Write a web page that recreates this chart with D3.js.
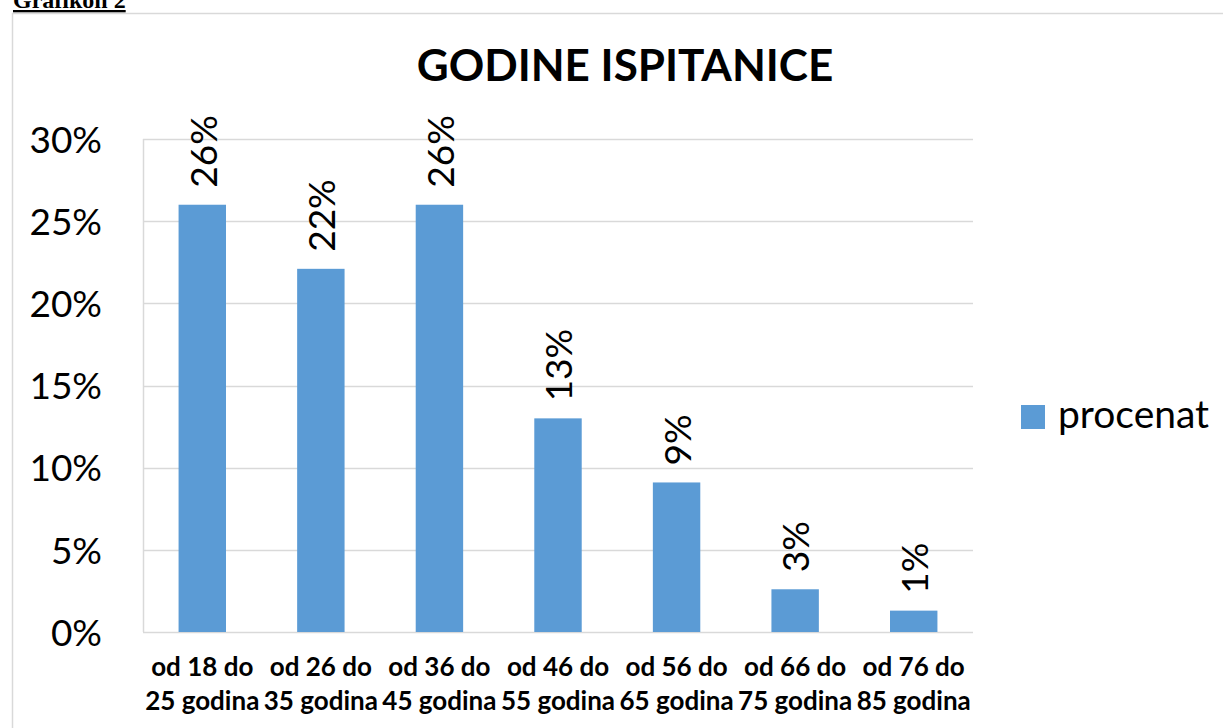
<!DOCTYPE html>
<html>
<head>
<meta charset="utf-8">
<script src="https://cdn.jsdelivr.net/npm/d3@7"></script>
<style>
  body { margin: 0; background: #fff; }
  svg { display: block; }
</style>
</head>
<body>
<svg id="chart" width="1223" height="728"></svg>
<script>
// age groups (two label lines each)
const categories = ["od 18 do|25 godina", "od 26 do|35 godina", "od 36 do|45 godina",
  "od 46 do|55 godina", "od 56 do|65 godina", "od 66 do|75 godina", "od 76 do|85 godina"]
// bar heights, percent
const values = [26, 22.1, 26, 13, 9.1, 2.6, 1.3]
const yTicks = [0, 5, 10, 15, 20, 25, 30]
const seriesName = "procenat"
const title = "GODINE ISPITANICE"

const width = 1223, height = 728
const margin = {top: 139, right: 250, bottom: 96, left: 143}
const font = "Lato, 'Open Sans', sans-serif"
const barColor = "#5b9bd5"
const gridColor = "#d9d9d9"

const svg = d3.select("#chart")

// page caption, cut off at the top like in the scan
svg.append("text")
  .attr("x", 13).attr("y", 8)
  .attr("font-family", "'Liberation Serif', 'Times New Roman', serif")
  .attr("font-weight", "bold")
  .attr("font-size", 24)
  .attr("text-decoration", "underline")
  .text("Grafikon 2")

// frame round the chart
svg.append("rect")
  .attr("x", 12.5).attr("y", 13.5)
  .attr("width", width).attr("height", height)
  .attr("fill", "none")
  .attr("stroke", gridColor)
  .attr("stroke-width", 1.5)

const x = d3.scaleBand()
  .domain(categories)
  .range([margin.left, width - margin.right])
  .paddingInner(0.6)
  .paddingOuter(0.3)

const y = d3.scaleLinear()
  .domain([0, 30])
  .range([height - margin.bottom, margin.top])

// gridlines
svg.append("g")
  .selectAll("line")
  .data(yTicks)
  .join("line")
    .attr("x1", margin.left)
    .attr("x2", width - margin.right)
    .attr("y1", d => Math.round(y(d)) + 0.5)
    .attr("y2", d => Math.round(y(d)) + 0.5)
    .attr("stroke", gridColor)
    .attr("stroke-width", 1.5)

svg.append("line")
  .attr("x1", margin.left + 0.5).attr("x2", margin.left + 0.5)
  .attr("y1", y(30)).attr("y2", y(0))
  .attr("stroke", gridColor)
  .attr("stroke-width", 1.5)

// y axis labels
const yAxis = d3.axisLeft(y).tickValues(yTicks).tickFormat(d => d + "%").tickSize(0).tickPadding(41)
svg.append("g")
  .attr("transform", `translate(${margin.left},0)`)
  .call(yAxis)
  .call(g => g.select(".domain").remove())
  .call(g => g.selectAll("text")
    .attr("font-family", font)
    .attr("font-size", 37)
    .attr("fill", "#000")
    .attr("dy", "0.36em"))

// bars
svg.append("g")
  .selectAll("rect")
  .data(values)
  .join("rect")
    .attr("x", (d, i) => x(categories[i]))
    .attr("y", d => y(d))
    .attr("width", x.bandwidth())
    .attr("height", d => y(0) - y(d))
    .attr("fill", barColor)

// value labels, rotated
svg.append("g")
  .selectAll("text")
  .data(values)
  .join("text")
    .attr("transform", (d, i) => `translate(${x(categories[i]) + x.bandwidth() / 2 + 1},${y(d) - 17}) rotate(-90)`)
    .attr("dy", "0.36em")
    .attr("font-family", font)
    .attr("font-size", 37)
    .text(d => Math.round(d) + "%")

// x labels
const xl = svg.append("g")
  .selectAll("text")
  .data(categories)
  .join("text")
    .attr("x", d => x(d) + x.bandwidth() / 2)
    .attr("y", 676)
    .attr("text-anchor", "middle")
    .attr("font-family", font)
    .attr("font-weight", "bold")
    .attr("font-size", 26)
xl.selectAll("tspan")
  .data(d => d.split("|"))
  .join("tspan")
    .attr("x", function() { return this.parentNode.getAttribute("x") })
    .attr("dy", (d, i) => i ? 34 : 0)
    .text(d => d)

// title
svg.append("text")
  .attr("x", 625).attr("y", 81)
  .attr("text-anchor", "middle")
  .attr("font-family", font)
  .attr("font-weight", "bold")
  .attr("font-size", 44)
  .text(title)

// legend
const legend = svg.append("g").attr("transform", "translate(1021,405)")
legend.append("rect")
  .attr("width", 24).attr("height", 24)
  .attr("fill", barColor)
legend.append("text")
  .attr("x", 37).attr("y", 23)
  .attr("font-family", font)
  .attr("font-size", 39)
  .text(seriesName)
</script>
</body>
</html>
